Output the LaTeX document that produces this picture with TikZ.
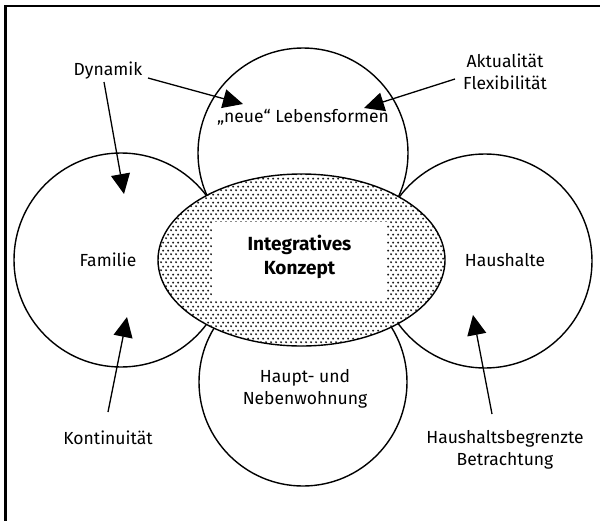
\documentclass[tikz,border=0pt]{standalone}
\usepackage{fontspec}
\setmainfont{Fira Sans}
\usetikzlibrary{arrows.meta,patterns.meta,shapes.geometric}
\pgfdeclarepattern{name=mydots, type=uncolored,
  bottom left={\pgfpoint{0pt}{0pt}}, top right={\pgfpoint{5pt}{8pt}},
  tile size={\pgfpoint{5pt}{8pt}},
  code={\pgfpathcircle{\pgfpoint{1.25pt}{2pt}}{1.2pt}
        \pgfpathcircle{\pgfpoint{3.75pt}{6pt}}{1.2pt}\pgfusepath{fill}}}
\begin{document}
\begin{tikzpicture}[x=1pt,y=-1pt,
  circ/.style={draw, line width=1.4pt, circle, inner sep=0pt},
  lbl/.style={font=\fontsize{17.5}{22}\selectfont, align=center, inner sep=1pt},
  arr/.style={line width=1.3pt, -{Triangle[length=20pt,width=19pt]}},
  frame/.style={line width=2.6pt}]
\useasboundingbox (0,0) rectangle (600,520);
\draw[frame] (5.5,530) -- (5.5,6) -- (610,6);
% circles
\node[circ, minimum size=210pt] (top) at (303,153) {};
\node[circ, minimum size=208pt] (bot) at (303,382) {};
\node[circ, minimum size=214pt] (left) at (121,260) {};
\node[circ, minimum size=214pt] (right) at (485,261) {};
% central ellipse
\node[ellipse, draw, line width=1.4pt, minimum width=287pt, minimum height=172pt,
  preaction={fill=white}, pattern=mydots, pattern color=black!90] (ell) at (301.5,260) {};
\node[fill=white, minimum width=175pt, minimum height=78pt, inner sep=0pt] (core) at (299.5,261) {};
\node[lbl, font=\fontsize{19}{24}\selectfont\bfseries] (ik) at (299.5,257) {Integratives\\Konzept};
% circle labels
\node[lbl] (neu) at (303,117) {„neue“ Lebensformen};
\node[lbl] (fam) at (108,260) {Familie};
\node[lbl] (hh) at (505,260) {Haushalte};
\node[lbl] (hnw) at (305,389) {Haupt- und\\Nebenwohnung};
% outer labels
\node[lbl] (dyn) at (108,71) {Dynamik};
\node[lbl] (akt) at (505,72) {Aktualität\\Flexibilität};
\node[lbl] (kon) at (108,438) {Kontinuität};
\node[lbl] (hbb) at (505,450) {Haushaltsbegrenzte\\Betrachtung};
% arrow ends
\coordinate (d1s) at (148,78);  \coordinate (d1t) at (243,104);
\coordinate (d2s) at (104,82);  \coordinate (d2t) at (124,194);
\coordinate (a1s) at (455,79);  \coordinate (a1t) at (364,108);
\coordinate (k1s) at (108,412); \coordinate (k1t) at (127,317);
\coordinate (h1s) at (492,414); \coordinate (h1t) at (473,315);
\draw[arr] (d1s) -- (d1t);
\draw[arr] (d2s) -- (d2t);
\draw[arr] (a1s) -- (a1t);
\draw[arr] (k1s) -- (k1t);
\draw[arr] (h1s) -- (h1t);
\end{tikzpicture}
\end{document}
